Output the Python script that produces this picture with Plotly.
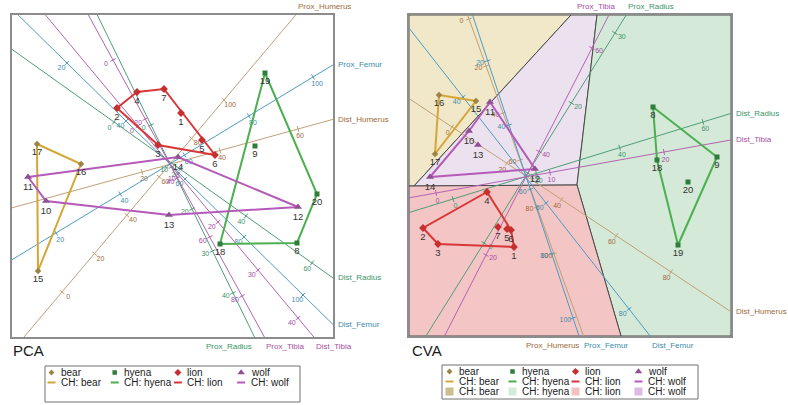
import math
import plotly.graph_objects as go

FIG_W, FIG_H = 788, 405
FONT = "Liberation Sans, Arial, sans-serif"

# ---------------- data ----------------
species_names = ["bear", "hyena", "lion", "wolf"]
specimen_ids = list(range(1, 21))
specimen_species = (["lion"] * 7 + ["hyena"] * 2 + ["wolf"] * 5 +
                    ["bear"] * 3 + ["hyena"] * 3)

# PCA scores (plot units)
pca_x = [169, 105, 146, 125, 190, 203, 152, 285, 243, 34,
         16, 286, 157, 166, 26, 69, 25, 208, 253, 305]
pca_y = [224, 229, 192, 245, 197, 182, 248, 94, 191, 136,
         160, 130, 122, 180, 66, 173, 193, 93, 264, 143]
# CVA scores (plot units)
cva_x = [105, 14, 29, 78, 98, 102, 89, 244, 308, 60,
         81, 126, 69, 21, 67, 30, 26, 248, 269, 279]
cva_y = [89, 108, 92, 144, 107, 106, 109, 229, 179, 205,
         234, 167, 191, 159, 235, 241, 182, 176, 91, 154]

# convex hulls (specimen ids, in order)
pca_hulls = {"bear": [17, 16, 15], "hyena": [19, 20, 8, 18],
             "lion": [2, 4, 7, 6, 3], "wolf": [11, 14, 12, 13, 10]}
cva_hulls = {"bear": [16, 15, 17], "hyena": [8, 9, 19, 18],
             "lion": [4, 6, 1, 3, 2], "wolf": [11, 12, 14, 10]}

# CVA classification regions (polygon vertices)
cva_region_x = {"bear": [0, 162, 5, 0], "wolf": [162, 188, 168, 5],
                "hyena": [188, 322, 322, 212, 168],
                "lion": [0, 5, 168, 212, 0]}
cva_region_y = {"bear": [321, 321, 150, 150], "wolf": [321, 321, 151, 150],
                "hyena": [321, 321, 0, 0, 151],
                "lion": [150, 150, 151, 0, 0]}

# biplot variables: calibration (value, x, y) at two markers, tick values
var_names = ["Prox_Humerus", "Dist_Humerus", "Prox_Femur", "Dist_Femur",
             "Prox_Radius", "Dist_Radius", "Prox_Tibia", "Dist_Tibia"]
pca_cal_lo = [(0, 50, 45), (20, 130, 165), (20, 44, 104), (20, 55, 274),
              (0, 139, 212), (40, 234, 121), (0, 101, 277), (20, 206, 115)]
pca_cal_hi = [(100, 212, 237), (60, 286, 208), (100, 301, 260), (100, 291, 42),
              (40, 221, 44), (60, 300, 74), (80, 230, 41), (40, 286, 19)]
pca_ticks = [[0, 20, 40, 60, 80, 100], [20, 40, 60], [20, 40, 60, 80, 100],
             [20, 40, 60, 80, 100], [0, 10, 20, 30, 40], [0, 20, 40, 60],
             [0, 20, 40, 60, 80], [0, 10, 20, 30, 40]]
cva_cal_lo = [(0, 60, 317), (0, 43, 209), (40, 100, 211), (40, 54, 239),
              (0, 75, 93), (0, 44, 137), (20, 77, 81), (0, 27, 143)]
cva_cal_hi = [(100, 145, 82), (80, 262, 64), (100, 164, 18), (80, 220, 27),
              (30, 206, 303), (60, 294, 214), (60, 183, 288), (20, 255, 184)]
cva_ticks = [[0, 20, 40, 60, 80, 100], [0, 20, 40, 60, 80], [20, 40, 60, 80, 100],
             [40, 60, 80], [0, 10, 20, 30], [0, 20, 40, 60], [20, 40, 60], [0, 10, 20]]

# ---------------- styles ----------------
marker_color = {"bear": "#9c8444", "hyena": "#2e7d3a", "lion": "#c62f2f", "wolf": "#8f4f93"}
marker_symbol = {"bear": "diamond", "hyena": "square", "lion": "diamond", "wolf": "triangle-up"}
marker_size = {"bear": 5, "hyena": 5, "lion": 6, "wolf": 7}
hull_color = {"bear": "#d4a636", "hyena": "#4caf50", "lion": "#d93636", "wolf": "#b55ab8"}
region_color = {"bear": "#f1e7c9", "hyena": "#d4e9d8", "lion": "#f4c5c5", "wolf": "#ece1ee"}
swatch_color = {"bear": "#cbbd8e", "hyena": "#d5ebdc", "lion": "#f5c2c2", "wolf": "#dcbbe3"}
bone_line = {"Humerus": "#bfa077", "Femur": "#4d9cc0", "Radius": "#4f9e78", "Tibia": "#b364b3"}
bone_text = {"Humerus": "#a06a3a", "Femur": "#3c8cab", "Radius": "#3b9467", "Tibia": "#a54ea5"}
pca_label_anchor = ["left", "left", "left", "left", "right", "left", "left", "left"]
pca_label_shift = [0, 0, 0, 0, 0, 0, 0, 0]
cva_label_anchor = ["right", "left", "left", "left", "left", "left", "right", "left"]
cva_label_shift = [-3, 0, 3, 0, 0, 0, 8, 0]

fig = go.Figure()
annotations = []


def exit_point(x, y, dx, dy, W, H):
    cands = []
    if dx > 1e-9:
        cands.append(((W - x) / dx, "right"))
    if dx < -1e-9:
        cands.append(((0 - x) / dx, "left"))
    if dy > 1e-9:
        cands.append(((H - y) / dy, "top"))
    if dy < -1e-9:
        cands.append(((0 - y) / dy, "bottom"))
    t, side = min(cands)
    return x + t * dx, y + t * dy, side


def add_biplot_axes(xa, ya, cal_lo, cal_hi, ticks, W, H, anchors, shifts):
    for i, name in enumerate(var_names):
        bone = name.split("_")[1]
        v0, x0, y0 = cal_lo[i]
        v1, x1, y1 = cal_hi[i]
        ux, uy = (x1 - x0) / (v1 - v0), (y1 - y0) / (v1 - v0)
        L = math.hypot(ux, uy)
        dx, dy = ux / L, uy / L
        # screen-down perpendicular (data y is up)
        sx, sy = dx, -dy
        p = (-sy, sx)
        if p[1] < 0:
            p = (-p[0], -p[1])
        nx, ny = p[0], -p[1]
        fig.add_trace(go.Scatter(
            x=[x0 - 2000 * dx, x0 + 2000 * dx], y=[y0 - 2000 * dy, y0 + 2000 * dy],
            xaxis=xa, yaxis=ya, mode="lines", hoverinfo="skip", showlegend=False,
            line=dict(color=bone_line[bone], width=1)))
        tx, ty, lx, ly, lt = [], [], [], [], []
        for v in ticks[i]:
            px = x0 + (v - v0) * ux
            py = y0 + (v - v0) * uy
            tx += [px - 3 * nx, px + 3 * nx, None]
            ty += [py - 3 * ny, py + 3 * ny, None]
            lx.append(px + 8 * nx)
            ly.append(py + 8 * ny)
            lt.append(str(v))
        fig.add_trace(go.Scatter(
            x=tx, y=ty, xaxis=xa, yaxis=ya, mode="lines", hoverinfo="skip",
            showlegend=False, line=dict(color=bone_line[bone], width=1)))
        fig.add_trace(go.Scatter(
            x=lx, y=ly, text=lt, xaxis=xa, yaxis=ya, mode="text", hoverinfo="skip",
            showlegend=False, textposition="middle center",
            textfont=dict(family=FONT, size=7, color=bone_text[bone])))
        xe, ye, side = exit_point(x1, y1, dx, dy, W, H)
        ann = dict(x=xe, y=ye, xref=xa, yref=ya, text=name, showarrow=False,
                   font=dict(family=FONT, size=8, color=bone_text[bone]))
        if side == "right":
            ann.update(xanchor="left", yanchor="middle", xshift=3)
        elif side == "left":
            ann.update(xanchor="right", yanchor="middle", xshift=-3)
        elif side == "top":
            ann.update(xanchor=anchors[i], yanchor="bottom", yshift=2, xshift=shifts[i])
        else:
            ann.update(xanchor=anchors[i], yanchor="top", yshift=-3, xshift=shifts[i])
        annotations.append(ann)


def add_points(xa, ya, xs, ys, hulls):
    for sp in species_names:
        order = hulls[sp]
        hx = [xs[k - 1] for k in order] + [xs[order[0] - 1]]
        hy = [ys[k - 1] for k in order] + [ys[order[0] - 1]]
        fig.add_trace(go.Scatter(
            x=hx, y=hy, xaxis=xa, yaxis=ya, mode="lines", hoverinfo="skip",
            showlegend=False, line=dict(color=hull_color[sp], width=2)))
    for sp in species_names:
        idx = [i for i, s in enumerate(specimen_species) if s == sp]
        fig.add_trace(go.Scatter(
            x=[xs[i] for i in idx], y=[ys[i] for i in idx],
            text=[str(specimen_ids[i]) for i in idx],
            xaxis=xa, yaxis=ya, mode="markers+text", textposition="bottom center",
            cliponaxis=False, showlegend=False, name=sp,
            textfont=dict(family=FONT, size=9.5, color="#333333"),
            marker=dict(symbol=marker_symbol[sp], size=marker_size[sp],
                        color=marker_color[sp], line=dict(width=0))))


# ---- CVA regions ----
for sp in ["bear", "wolf", "hyena", "lion"]:
    fig.add_trace(go.Scatter(
        x=cva_region_x[sp] + [cva_region_x[sp][0]],
        y=cva_region_y[sp] + [cva_region_y[sp][0]],
        xaxis="x2", yaxis="y2", mode="lines", fill="toself",
        fillcolor=region_color[sp], hoverinfo="skip", showlegend=False,
        line=dict(color="#4a4a4a", width=1)))

add_biplot_axes("x", "y", pca_cal_lo, pca_cal_hi, pca_ticks, 321, 322,
                pca_label_anchor, pca_label_shift)
add_points("x", "y", pca_x, pca_y, pca_hulls)
add_biplot_axes("x2", "y2", cva_cal_lo, cva_cal_hi, cva_ticks, 322, 321,
                cva_label_anchor, cva_label_shift)
add_points("x2", "y2", cva_x, cva_y, cva_hulls)

# ---------------- legends (drawn on a full-figure pixel axis) ----------------
shapes = []


def add_legend(x0, y0, x1, y1, sym_x0, col_w, with_fill):
    shapes.append(dict(type="rect", xref="x3", yref="y3", x0=x0, y0=y0, x1=x1, y1=y1,
                       line=dict(color="#707070", width=1), layer="above"))
    row_y = [y0 + 6.5, y0 + 16.5, y0 + 26.5]
    for j, sp in enumerate(species_names):
        sx = sym_x0 + j * col_w
        fig.add_trace(go.Scatter(
            x=[sx], y=[row_y[0]], xaxis="x3", yaxis="y3", mode="markers",
            hoverinfo="skip", showlegend=False,
            marker=dict(symbol=marker_symbol[sp], size=marker_size[sp] - 0.5,
                        color=marker_color[sp], line=dict(width=0))))
        fig.add_trace(go.Scatter(
            x=[sx - 4, sx + 4], y=[row_y[1], row_y[1]], xaxis="x3", yaxis="y3",
            mode="lines", hoverinfo="skip", showlegend=False,
            line=dict(color=hull_color[sp], width=2)))
        labels = [sp, "CH: " + sp]
        if with_fill:
            fig.add_trace(go.Scatter(
                x=[sx], y=[row_y[2]], xaxis="x3", yaxis="y3", mode="markers",
                hoverinfo="skip", showlegend=False,
                marker=dict(symbol="square", size=8, color=swatch_color[sp],
                            line=dict(width=0))))
            labels.append("CH: " + sp)
        for r, t in enumerate(labels):
            annotations.append(dict(
                x=sx + 7.5, y=row_y[r], xref="x3", yref="y3", text=t,
                showarrow=False, xanchor="left", yanchor="middle",
                font=dict(family=FONT, size=10, color="#1a1a1a")))


add_legend(45, 366, 300, 402, 51.5, 63.2, False)
add_legend(442, 365, 698, 399, 449.5, 63.0, True)

annotations.append(dict(x=11, y=350, xref="x3", yref="y3", text="PCA", showarrow=False,
                        xanchor="left", yanchor="middle",
                        font=dict(family=FONT, size=15, color="#1a1a1a")))
annotations.append(dict(x=410, y=350, xref="x3", yref="y3", text="CVA", showarrow=False,
                        xanchor="left", yanchor="middle",
                        font=dict(family=FONT, size=15, color="#1a1a1a")))

frame = dict(showgrid=False, zeroline=False, showticklabels=False, ticks="",
             showline=True, mirror=True, linecolor="#8c8c8c", linewidth=1.5,
             fixedrange=True)
fig.update_layout(
    width=FIG_W, height=FIG_H, margin=dict(l=0, r=0, t=0, b=0),
    paper_bgcolor="white", plot_bgcolor="rgba(0,0,0,0)",
    showlegend=False, font=dict(family=FONT),
    xaxis=dict(domain=[12 / FIG_W, 333 / FIG_W], range=[0, 321], anchor="y", **frame),
    yaxis=dict(domain=[1 - 337 / FIG_H, 1 - 15 / FIG_H], range=[0, 322], anchor="x", **frame),
    xaxis2=dict(domain=[409 / FIG_W, 731 / FIG_W], range=[0, 322], anchor="y2", **frame),
    yaxis2=dict(domain=[1 - 336 / FIG_H, 1 - 15 / FIG_H], range=[0, 321], anchor="x2", **frame),
    xaxis3=dict(domain=[0, 1], range=[0, FIG_W], anchor="y3", visible=False, fixedrange=True),
    yaxis3=dict(domain=[0, 1], range=[FIG_H, 0], anchor="x3", visible=False, fixedrange=True),
    annotations=annotations, shapes=shapes,
)

fig.write_html("out.html",
               config={"displayModeBar": False},
               post_script="document.body.style.margin='0px';"
                           "document.body.style.overflow='hidden';")
